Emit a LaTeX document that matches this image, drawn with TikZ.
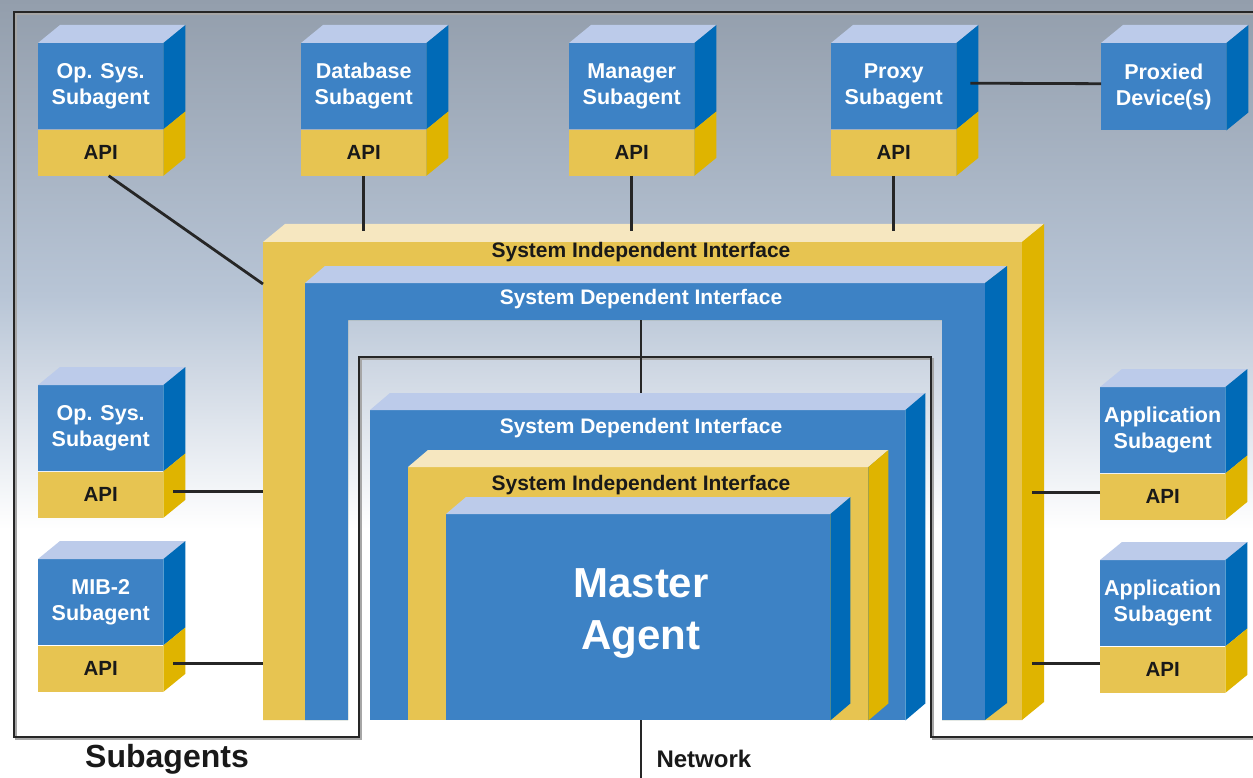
\documentclass[tikz,border=0pt]{standalone}
\usepackage{fontspec}
\setmainfont{Liberation Sans}
\usetikzlibrary{positioning}
\definecolor{sdblue}{HTML}{3D82C5}
\definecolor{sdblueside}{HTML}{006AB7}
\definecolor{sdbluetop}{HTML}{BCCBEA}
\definecolor{siyel}{HTML}{E7C451}
\definecolor{siyelside}{HTML}{DFB400}
\definecolor{siyeltop}{HTML}{F6E7C0}
\definecolor{bgtop}{HTML}{939EAC}
\definecolor{bgmid}{HTML}{B8C5D6}
\definecolor{wirecol}{HTML}{262626}
\pgfdeclareverticalshading{photobg}{100bp}{color(0bp)=(white); color(25bp)=(white);
    color(41bp)=(white); color(56bp)=(bgmid); color(75bp)=(bgtop); color(100bp)=(bgtop)}
\tikzset{
        sub_n/.style = {rectangle, fill=sdblue, text=white, align=center, inner sep=0pt,
            minimum width=125pt, minimum height=86pt, anchor=north west,
            font=\fontsize{21.5}{26}\selectfont\bfseries},
        sub_api/.style = {rectangle, fill=siyel, text=black!90, inner sep=0pt,
            minimum width=125pt, minimum height=46pt,
            font=\fontsize{20.5}{24}\selectfont\bfseries},
        block/.style = {rectangle, inner sep=0pt, anchor=north west},
        if_dark/.style = {font=\fontsize{21}{24}\selectfont\bfseries, text=black!90},
        if_light/.style = {if_dark, text=white},
        wire/.style = {draw=wirecol, line width=2.8pt}
    }
\begin{document}
\begin{tikzpicture}[x=1pt, y=-1pt]
    \useasboundingbox (0,0) rectangle (1253,778);
    \shade[shading=photobg] (0,0) rectangle (1253,778);

    % subagents region
    \draw[gray!70, line width=2.5pt] (1260,14) -- (16,14) -- (16,739) -- (361,739)
        -- (361,359) -- (933,359) -- (933,739) -- (1260,739);
    \draw[wire] (1260,12) -- (14,12) -- (14,737) -- (359,737)
        -- (359,357) -- (931,357) -- (931,737) -- (1260,737);

    % outer interfaces
    \fill[siyel] (263,242) -- (1022,242) -- (1022,720) -- (942,720) -- (942,320)
        -- (348,320) -- (348,720) -- (263,720) -- cycle;
    \fill[siyeltop] (263,242) -- (285,224) -- (1044,224) -- (1022,242) -- cycle;
    \fill[siyelside] (1022,242) -- (1044,224) -- (1044,702) -- (1022,720) -- cycle;
    \fill[sdblue] (305,283) -- (985,283) -- (985,720) -- (942,720) -- (942,320)
        -- (348,320) -- (348,720) -- (305,720) -- cycle;
    \fill[sdbluetop] (305,283) -- (325,266) -- (1007,266) -- (985,283) -- cycle;
    \fill[sdblueside] (985,283) -- (1007,266) -- (1007,703) -- (985,720) -- cycle;
    \node[if_dark] (si_out) at (641,252) {System Independent Interface};
    \node[if_light] (sd_out) at (641,299) {System Dependent Interface};
    \coordinate (sd_gap) at (641,320);
    \coordinate (si_top) at (0,231);
    \coordinate (si_w) at (263,284);
    \coordinate (si_e) at (1032,0);

    % master agent
    \node[block, fill=sdblue, minimum width=535pt, minimum height=310pt] (sd_in) at (370,410) {};
    \node[block, fill=siyel, minimum width=460pt, minimum height=253pt] (si_in) at (408,467) {};
    \node[block, fill=sdblue, minimum width=384pt, minimum height=206pt] (master) at (446,514) {};
    \foreach \nm/\tp/\sd in {sd_in/sdbluetop/sdblueside, si_in/siyeltop/siyelside,
            master/sdbluetop/sdblueside} {
        \fill[\tp] (\nm.north west) -- ++(20,-17) -- ([shift={(20,-17)}]\nm.north east)
            -- (\nm.north east) -- cycle;
        \fill[\sd] (\nm.north east) -- ++(20,-17) -- ([shift={(20,-17)}]\nm.south east)
            -- (\nm.south east) -- cycle;
    }
    \node[if_light] (sd_in_txt) at (641,428) {System Dependent Interface};
    \node[if_dark] (si_in_txt) at (641,485) {System Independent Interface};
    \node[text=white, align=center, font=\fontsize{42}{52}\selectfont\bfseries]
        (master_txt) at (641,613) {Master\\Agent};
    \coordinate (sd_in_top) at ([yshift=17pt]sd_in.north);
    \coordinate (net) at (641,778);

    % subagents
    \node[sub_n] (os1) at (38,43) {Op. Sys.\\Subagent};
    \node[sub_api, below=0pt of os1] (os1api) {API};
    \node[sub_n] (db) at (301,43) {Database\\Subagent};
    \node[sub_api, below=0pt of db] (dbapi) {API};
    \node[sub_n] (mgr) at (569,43) {Manager\\Subagent};
    \node[sub_api, below=0pt of mgr] (mgrapi) {API};
    \node[sub_n] (proxy) at (831,43) {Proxy\\Subagent};
    \node[sub_api, below=0pt of proxy] (proxyapi) {API};
    \node[sub_n, minimum height=87pt] (dev) at (1101,43) {Proxied\\Device(s)};
    \node[sub_n] (os2) at (38,385) {Op. Sys.\\Subagent};
    \node[sub_api, below=0pt of os2] (os2api) {API};
    \node[sub_n] (mib) at (38,559) {MIB-2\\Subagent};
    \node[sub_api, below=0pt of mib] (mibapi) {API};
    \node[sub_n] (app1) at (1100,387) {Application\\Subagent};
    \node[sub_api, below=0pt of app1] (app1api) {API};
    \node[sub_n] (app2) at (1100,560) {Application\\Subagent};
    \node[sub_api, below=0pt of app2] (app2api) {API};
    \foreach \nm in {os1,db,mgr,proxy,dev,os2,mib,app1,app2} {
        \fill[sdbluetop] (\nm.north west) -- ++(22,-18) -- ([shift={(22,-18)}]\nm.north east)
            -- (\nm.north east) -- cycle;
        \fill[sdblueside] (\nm.north east) -- ++(22,-18) -- ([shift={(22,-18)}]\nm.south east)
            -- (\nm.south east) -- cycle;
    }
    \foreach \nm in {os1api,dbapi,mgrapi,proxyapi,os2api,mibapi,app1api,app2api} {
        \fill[siyelside] (\nm.north east) -- ++(22,-18) -- ([shift={(22,-18)}]\nm.south east)
            -- (\nm.south east) -- cycle;
    }

    % connectors
    \draw[wire] ([xshift=8pt]os1api.south) -- (si_w);
    \draw[wire] (dbapi.south) -- (dbapi.south |- si_top);
    \draw[wire] (mgrapi.south) -- (mgrapi.south |- si_top);
    \draw[wire] (proxyapi.south) -- (proxyapi.south |- si_top);
    \draw[wire] ([xshift=14pt, yshift=3pt]proxy.east) -- ([yshift=3pt]dev.west);
    \draw[wire] ([xshift=10pt, yshift=3pt]os2api.east) -- ([yshift=3pt]os2api.east -| si_w);
    \draw[wire] ([xshift=10pt, yshift=5pt]mibapi.east) -- ([yshift=5pt]mibapi.east -| si_w);
    \draw[wire] ([yshift=4pt]app1api.west) -- ([yshift=4pt]app1api.west -| si_e);
    \draw[wire] ([yshift=6pt]app2api.west) -- ([yshift=6pt]app2api.west -| si_e);
    \draw[wire] (sd_gap) -- (sd_gap |- sd_in_top);
    \draw[wire] (net |- sd_in.south) -- (net);

    \node[text=black!90, font=\fontsize{32}{36}\selectfont\bfseries] (subagents) at (167,759) {Subagents};
    \node[anchor=west, text=black!90, font=\fontsize{24}{28}\selectfont\bfseries] (network) at (653,759) {Network};
\end{tikzpicture}
\end{document}
